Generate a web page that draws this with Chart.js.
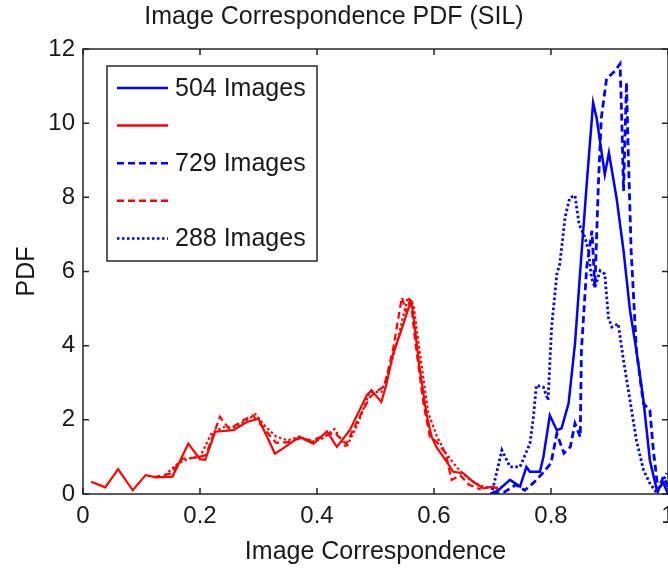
<!DOCTYPE html>
<html>
<head>
<meta charset="utf-8">
<script src="https://cdn.jsdelivr.net/npm/chart.js@4.4.0/dist/chart.umd.min.js"></script>
<style>
  html, body { margin: 0; padding: 0; background: #fff; overflow: hidden; width: 668px; height: 569px; }
  #wrap { width: 720px; height: 569px; }
</style>
</head>
<body>
<div id="wrap"><canvas id="pdfChart" width="720" height="569"></canvas></div>
<script>
// x ticks and y ticks
const xTicks = [0, 0.2, 0.4, 0.6, 0.8, 1];
const yTicks = [0, 2, 4, 6, 8, 10, 12];

// 504 images
const blueSolidX = [0.696, 0.71, 0.73, 0.747, 0.758, 0.764, 0.781, 0.787, 0.798, 0.81, 0.818, 0.83, 0.841, 0.85, 0.861, 0.872, 0.878, 0.892, 0.899, 0.912, 0.924, 0.935, 0.946, 0.958, 0.969, 0.981, 0.992, 1.0];
const blueSolidY = [0.0, 0.1, 0.38, 0.2, 0.73, 0.6, 0.6, 1.0, 2.12, 1.72, 1.77, 2.44, 4.05, 6.02, 8.35, 10.55, 10.14, 8.62, 9.2, 7.99, 6.56, 4.95, 3.87, 2.53, 0.91, 0.1, 0.3, 0.0];
const redSolidX = [0.014, 0.038, 0.06, 0.085, 0.107, 0.125, 0.153, 0.18, 0.2, 0.209, 0.226, 0.257, 0.28, 0.3, 0.32, 0.328, 0.342, 0.37, 0.394, 0.417, 0.434, 0.456, 0.485, 0.493, 0.51, 0.519, 0.53, 0.545, 0.556, 0.562, 0.567, 0.576, 0.587, 0.596, 0.604, 0.616, 0.633, 0.65, 0.667, 0.684, 0.701, 0.713];
const redSolidY = [0.33, 0.18, 0.67, 0.1, 0.51, 0.45, 0.47, 1.36, 0.94, 0.92, 1.68, 1.72, 1.94, 2.03, 1.36, 1.09, 1.23, 1.54, 1.36, 1.69, 1.27, 1.72, 2.66, 2.8, 2.48, 2.98, 3.78, 4.45, 5.0, 5.15, 4.5, 3.33, 2.17, 1.54, 1.27, 1.0, 0.6, 0.56, 0.33, 0.15, 0.2, 0.1];

// 729 images
const blueDashX = [0.70, 0.72, 0.74, 0.755, 0.77, 0.785, 0.8, 0.81, 0.822, 0.833, 0.841, 0.85, 0.852, 0.861, 0.87, 0.875, 0.881, 0.886, 0.895, 0.909, 0.918, 0.921, 0.924, 0.929, 0.932, 0.937, 0.946, 0.958, 0.969, 0.975, 0.983, 0.992, 1.0];
const blueDashY = [0.0, 0.05, 0.25, 0.1, 0.3, 0.55, 0.83, 1.63, 1.1, 1.27, 1.9, 1.54, 3.87, 6.11, 7.1, 5.57, 8.35, 10.14, 11.2, 11.4, 11.6, 10.1, 8.17, 11.1, 9.25, 6.56, 3.87, 2.44, 2.26, 1.18, 0.1, 0.46, 0.2];
const redDashX = [0.12, 0.15, 0.17, 0.2, 0.21, 0.234, 0.25, 0.27, 0.29, 0.31, 0.33, 0.35, 0.37, 0.39, 0.41, 0.43, 0.45, 0.47, 0.49, 0.5, 0.515, 0.53, 0.545, 0.553, 0.56, 0.567, 0.582, 0.593, 0.605, 0.62, 0.63, 0.645, 0.66, 0.68];
const redDashY = [0.45, 0.55, 0.95, 1.0, 1.05, 2.08, 1.75, 1.95, 2.12, 1.75, 1.38, 1.4, 1.5, 1.45, 1.55, 1.65, 1.35, 2.0, 2.6, 2.75, 2.9, 3.9, 5.3, 4.9, 5.3, 4.23, 2.44, 1.54, 1.4, 1.1, 0.38, 0.5, 0.25, 0.12];

// 288 images
const blueDotX = [0.70, 0.716, 0.73, 0.747, 0.764, 0.77, 0.775, 0.787, 0.795, 0.801, 0.81, 0.815, 0.824, 0.832, 0.841, 0.848, 0.858, 0.864, 0.869, 0.875, 0.884, 0.892, 0.898, 0.904, 0.915, 0.924, 0.935, 0.946, 0.958, 0.969, 0.981, 0.998];
const blueDotY = [0.1, 1.18, 0.73, 0.73, 1.36, 2.08, 2.93, 2.88, 2.53, 4.5, 5.93, 6.2, 7.45, 7.99, 8.05, 7.28, 6.92, 6.56, 5.84, 5.57, 6.02, 5.93, 4.77, 4.5, 4.59, 3.6, 2.53, 1.45, 0.65, 0.29, 0.02, 0.56];
const redDotX = [0.14, 0.16, 0.18, 0.2, 0.22, 0.24, 0.26, 0.28, 0.295, 0.31, 0.33, 0.35, 0.37, 0.39, 0.41, 0.43, 0.45, 0.47, 0.49, 0.51, 0.525, 0.54, 0.555, 0.565, 0.575, 0.59, 0.605, 0.62, 0.64, 0.66, 0.68, 0.7, 0.72];
const redDotY = [0.5, 0.8, 0.95, 1.0, 1.65, 1.8, 1.8, 2.0, 2.15, 1.85, 1.55, 1.45, 1.55, 1.4, 1.5, 1.75, 1.25, 1.9, 2.75, 2.75, 3.4, 4.3, 5.3, 5.1, 3.9, 2.2, 1.55, 1.1, 0.7, 0.4, 0.22, 0.15, 0.2];

const FONT = "'Liberation Sans', Arial, sans-serif";
const TEXT = '#1a1a1a';
const BLUE = '#0000ff';
const RED = '#ff0000';
const DASH = [7, 4];
const DOT = [2.5, 2.5];

const pts = (xs, ys) => xs.map((x, i) => ({ x: x, y: ys[i] }));

const series = (label, xs, ys, color, dash, width) => ({
  label: label,
  data: pts(xs, ys),
  borderColor: color,
  backgroundColor: color,
  borderWidth: width,
  borderDash: dash,
  pointRadius: 0,
  tension: 0,
  fill: false
});

// MATLAB style frame with inward tick marks on all four sides
const frameBox = {
  id: 'frameBox',
  afterDatasetsDraw(chart) {
    const { ctx, chartArea: a, scales: { x, y } } = chart;
    ctx.save();
    ctx.strokeStyle = '#262626';
    ctx.lineWidth = 1.5;
    ctx.strokeRect(a.left, a.top, a.right - a.left, a.bottom - a.top);
    ctx.beginPath();
    xTicks.forEach(v => {
      const px = x.getPixelForValue(v);
      ctx.moveTo(px, a.bottom); ctx.lineTo(px, a.bottom - 6);
      ctx.moveTo(px, a.top); ctx.lineTo(px, a.top + 6);
    });
    yTicks.forEach(v => {
      const py = y.getPixelForValue(v);
      ctx.moveTo(a.left, py); ctx.lineTo(a.left + 6, py);
      ctx.moveTo(a.right, py); ctx.lineTo(a.right - 6, py);
    });
    ctx.stroke();
    ctx.restore();
  }
};

// boxed legend in the upper left corner of the plot (first five lines only)
const boxLegend = {
  id: 'boxLegend',
  afterDraw(chart) {
    const { ctx, chartArea: a } = chart;
    const left = a.left + 24, top = a.top + 17, w = 210, h = 195;
    ctx.save();
    ctx.fillStyle = '#fff';
    ctx.fillRect(left, top, w, h);
    ctx.strokeStyle = '#262626';
    ctx.lineWidth = 1.5;
    ctx.strokeRect(left, top, w, h);
    ctx.font = '25px ' + FONT;
    ctx.textBaseline = 'middle';
    chart.data.datasets.slice(0, 5).forEach((ds, i) => {
      const cy = top + 22 + i * 37.6;
      ctx.beginPath();
      ctx.strokeStyle = ds.borderColor;
      ctx.lineWidth = 2.5;
      ctx.setLineDash(ds.borderDash || []);
      ctx.moveTo(left + 10, cy);
      ctx.lineTo(left + 61, cy);
      ctx.stroke();
      ctx.setLineDash([]);
      ctx.fillStyle = TEXT;
      ctx.fillText(ds.label, left + 68, cy + 1);
    });
    ctx.restore();
  }
};

new Chart(document.getElementById('pdfChart'), {
  type: 'line',
  data: {
    datasets: [
      series('504 Images', blueSolidX, blueSolidY, BLUE, [], 2.5),
      series('', redSolidX, redSolidY, RED, [], 2.2),
      series('729 Images', blueDashX, blueDashY, BLUE, DASH, 2.8),
      series('', redDashX, redDashY, RED, DASH, 2.2),
      series('288 Images', blueDotX, blueDotY, BLUE, DOT, 2.8),
      series('', redDotX, redDotY, RED, DOT, 2.2)
    ]
  },
  options: {
    responsive: false,
    devicePixelRatio: 1,
    animation: false,
    layout: { padding: { left: 0, right: 52, top: 0, bottom: 0 } },
    plugins: {
      legend: { display: false },
      tooltip: { enabled: false },
      title: {
        display: true,
        text: 'Image Correspondence PDF (SIL)',
        color: TEXT,
        font: { family: FONT, size: 25, weight: 'normal' },
        padding: { top: 2, bottom: 17 }
      }
    },
    scales: {
      x: {
        type: 'linear',
        min: 0,
        max: 1,
        afterFit: s => { s.height = 75; },
        afterBuildTicks: s => { s.ticks = xTicks.map(v => ({ value: v })); },
        grid: { display: false, drawTicks: false },
        border: { display: false },
        ticks: {
          color: TEXT,
          font: { family: FONT, size: 24 },
          padding: 8,
          maxRotation: 0,
          callback: v => String(v)
        },
        title: {
          display: true,
          text: 'Image Correspondence',
          color: TEXT,
          font: { family: FONT, size: 25 },
          padding: { top: 0, bottom: 2 }
        }
      },
      y: {
        type: 'linear',
        min: 0,
        max: 12,
        afterFit: s => { s.width = 83; },
        afterBuildTicks: s => { s.ticks = yTicks.map(v => ({ value: v })); },
        grid: { display: false, drawTicks: false },
        border: { display: false },
        ticks: { color: TEXT, font: { family: FONT, size: 24 }, padding: 8, callback: v => String(v) },
        title: {
          display: true,
          text: 'PDF',
          color: TEXT,
          font: { family: FONT, size: 25 },
          padding: { top: 12, bottom: 0 }
        }
      }
    }
  },
  plugins: [frameBox, boxLegend]
});
</script>
</body>
</html>
